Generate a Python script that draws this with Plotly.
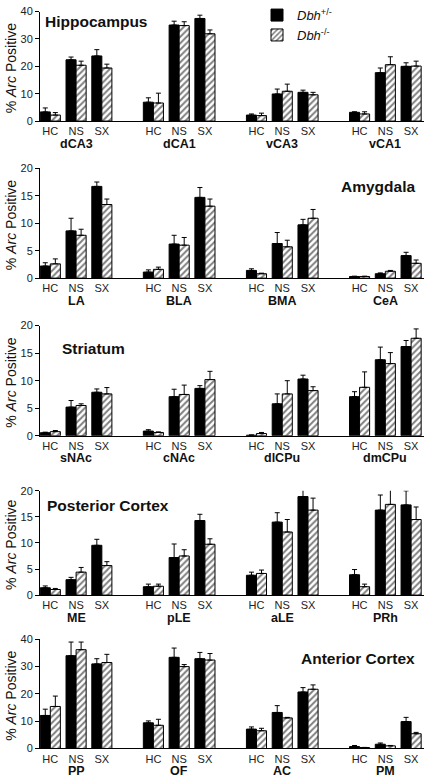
import plotly.graph_objects as go

# ---------------- data ----------------
conditions = ["HC", "NS", "SX"]

hip_regions = ["dCA3", "dCA1", "vCA3", "vCA1"]
hip_het = [3.35, 22.4, 23.8, 6.9, 35.1, 37.5, 2.2, 9.9, 10.5, 3.2, 17.7, 20.0]
hip_het_err = [1.45, 1.0, 2.3, 1.6, 1.4, 1.2, 0.4, 1.8, 0.8, 0.2, 1.7, 1.3]
hip_ko = [2.2, 20.4, 19.4, 6.6, 34.9, 31.9, 2.0, 10.9, 9.6, 2.6, 20.6, 20.1]
hip_ko_err = [0.9, 1.5, 1.4, 3.6, 1.4, 1.4, 0.9, 2.6, 0.9, 0.8, 2.9, 1.8]

amy_regions = ["LA", "BLA", "BMA", "CeA"]
amy_het = [2.2, 8.6, 16.7, 1.1, 6.2, 14.7, 1.4, 6.3, 9.7, 0.3, 0.8, 4.1]
amy_het_err = [0.6, 2.3, 0.8, 0.4, 1.6, 1.8, 0.3, 2.0, 1.0, 0.05, 0.15, 0.6]
amy_ko = [2.6, 7.8, 13.4, 1.6, 6.0, 13.1, 0.8, 5.7, 10.9, 0.3, 1.25, 2.7]
amy_ko_err = [0.9, 1.1, 1.0, 0.4, 1.4, 1.3, 0.1, 1.2, 1.6, 0.05, 0.15, 0.6]

str_regions = ["sNAc", "cNAc", "dlCPu", "dmCPu"]
str_het = [0.55, 5.2, 7.9, 0.85, 7.1, 8.6, 0.1, 5.8, 10.3, 7.1, 13.8, 16.2]
str_het_err = [0.1, 1.2, 0.6, 0.25, 1.35, 0.5, 0.05, 1.8, 0.7, 0.9, 2.3, 1.1]
str_ko = [0.75, 5.5, 7.6, 0.6, 7.5, 10.2, 0.4, 7.6, 8.2, 8.8, 13.1, 17.7]
str_ko_err = [0.2, 0.3, 1.15, 0.1, 1.7, 1.5, 0.2, 2.4, 0.7, 2.8, 2.0, 1.7]

pc_regions = ["ME", "pLE", "aLE", "PRh"]
pc_het = [1.4, 2.95, 9.55, 1.6, 7.2, 14.3, 3.8, 14.0, 18.9, 3.9, 16.3, 17.3]
pc_het_err = [0.35, 0.45, 1.15, 0.5, 2.6, 1.2, 0.6, 1.8, 1.5, 1.0, 2.9, 2.7]
pc_ko = [1.07, 4.4, 5.66, 1.7, 7.5, 9.75, 4.15, 12.1, 16.3, 1.6, 17.4, 14.5]
pc_ko_err = [0.2, 0.9, 0.75, 0.4, 1.2, 1.05, 0.65, 2.4, 2.3, 0.5, 2.9, 2.4]

ac_regions = ["PP", "OF", "AC", "PM"]
ac_het = [12.1, 34.0, 31.0, 9.4, 33.4, 32.9, 7.1, 13.2, 20.7, 0.7, 1.56, 9.85]
ac_het_err = [2.3, 5.0, 1.9, 0.7, 3.4, 2.3, 0.8, 2.5, 1.6, 0.4, 0.45, 1.55]
ac_ko = [15.4, 36.2, 31.5, 8.5, 30.0, 32.4, 6.5, 11.2, 21.7, 0.35, 0.96, 5.4]
ac_ko_err = [3.8, 2.8, 3.0, 2.2, 0.75, 2.4, 0.9, 0.2, 1.6, 0.05, 0.15, 0.5]

panel_titles = ["Hippocampus", "Amygdala", "Striatum", "Posterior Cortex", "Anterior Cortex"]
series_names = ["<i>Dbh</i><sup>+/-</sup>", "<i>Dbh</i><sup>-/-</sup>"]

panels_data = [
    (hip_regions, hip_het, hip_het_err, hip_ko, hip_ko_err),
    (amy_regions, amy_het, amy_het_err, amy_ko, amy_ko_err),
    (str_regions, str_het, str_het_err, str_ko, str_ko_err),
    (pc_regions, pc_het, pc_het_err, pc_ko, pc_ko_err),
    (ac_regions, ac_het, ac_het_err, ac_ko, ac_ko_err),
]

# ---------------- layout config (pixels) ----------------
W, H = 426, 783
FONT = "Arial, Liberation Sans, sans-serif"
panel_cfg = [
    dict(y0=116, ytop=4.7, ymax=40, dtick=10, tx=96, ty=15),
    dict(y0=275.7, ytop=164, ymax=20, dtick=5, tx=378, ty=183),
    dict(y0=436, ytop=324, ymax=20, dtick=5, tx=93, ty=347),
    dict(y0=598, ytop=492, ymax=20, dtick=5, tx=108, ty=507),
    dict(y0=754, ytop=643, ymax=40, dtick=10, tx=358, ty=663),
]
XL, XR = 40, 424

slots = [4 * g + c for g in range(4) for c in range(3)]
ticklabels = conditions * 4

fig = go.Figure()
layout = dict(
    width=W, height=H, margin=dict(l=0, r=0, t=0, b=0),
    paper_bgcolor="white", plot_bgcolor="white",
    barmode="group", bargap=0.22, bargroupgap=0.0,
    font=dict(family=FONT, color="#111"),
    showlegend=True,
    legend=dict(x=257 / W, y=1 + 7 / H, xanchor="left", yanchor="top",
                bgcolor="rgba(0,0,0,0)", font=dict(size=13, family=FONT, color="#111"),
                tracegroupgap=0, itemwidth=30),
)
annotations = []

for i, ((regions, het, het_err, ko, ko_err), cfg) in enumerate(zip(panels_data, panel_cfg)):
    xn = "x" if i == 0 else f"x{i+1}"
    yn = "y" if i == 0 else f"y{i+1}"
    xkey = "xaxis" if i == 0 else f"xaxis{i+1}"
    ykey = "yaxis" if i == 0 else f"yaxis{i+1}"

    fig.add_trace(go.Bar(
        x=slots, y=het, xaxis=xn, yaxis=yn, name=series_names[0],
        legendgroup="het", showlegend=(i == 0),
        marker=dict(color="black", line=dict(color="black", width=1)),
        error_y=dict(type="data", symmetric=False, array=het_err, arrayminus=[0] * 12,
                     color="black", thickness=1, width=2.5),
    ))
    fig.add_trace(go.Bar(
        x=slots, y=ko, xaxis=xn, yaxis=yn, name=series_names[1],
        legendgroup="ko", showlegend=(i == 0),
        marker=dict(color="white", line=dict(color="black", width=1),
                    pattern=dict(shape="/", fgcolor="black", bgcolor="white", size=4.5, solidity=0.45)),
        error_y=dict(type="data", symmetric=False, array=ko_err, arrayminus=[0] * 12,
                     color="black", thickness=1, width=2.5),
    ))

    layout[xkey] = dict(
        domain=[XL / W, XR / W], anchor=yn, range=[-0.4, 14.5],
        tickmode="array", tickvals=slots, ticktext=ticklabels, ticks="",
        tickfont=dict(size=11, color="#222"), showline=True, linecolor="black",
        linewidth=1, showgrid=False, zeroline=False, fixedrange=True,
    )
    layout[ykey] = dict(
        domain=[1 - cfg["y0"] / H, 1 - cfg["ytop"] / H], anchor=xn,
        range=[0, cfg["ymax"]], dtick=cfg["dtick"], ticks="outside", ticklen=4,
        tickcolor="black", tickfont=dict(size=11, color="#222"),
        showline=True, linecolor="black", linewidth=1,
        showgrid=False, zeroline=False, fixedrange=True,
    )

    for g, reg in enumerate(regions):
        annotations.append(dict(
            x=4 * g + 1, xref=xn, y=1 - (cfg["y0"] + 23) / H, yref="paper",
            text=f"<b>{reg}</b>", showarrow=False, xanchor="center", yanchor="middle",
            font=dict(size=12.5, family=FONT, color="#111"),
        ))
    annotations.append(dict(
        x=11 / W, xref="paper", y=1 - ((cfg["y0"] + cfg["ytop"]) / 2 + 2) / H, yref="paper",
        text="% <i>Arc</i> Positive", textangle=-90, showarrow=False,
        xanchor="center", yanchor="middle", font=dict(size=14, family=FONT, color="#111"),
    ))
    annotations.append(dict(
        x=cfg["tx"] / W, xref="paper", y=1 - cfg["ty"] / H, yref="paper",
        text=f"<b>{panel_titles[i]}</b>", showarrow=False,
        xanchor="center", yanchor="middle", font=dict(size=15.5, family=FONT, color="#111"),
    ))

layout["annotations"] = annotations
fig.update_layout(**layout)
fig.write_html(
    "out.html",
    config={"displayModeBar": False, "staticPlot": True},
    post_script="document.body.style.margin='0';document.body.style.overflow='hidden';",
)
